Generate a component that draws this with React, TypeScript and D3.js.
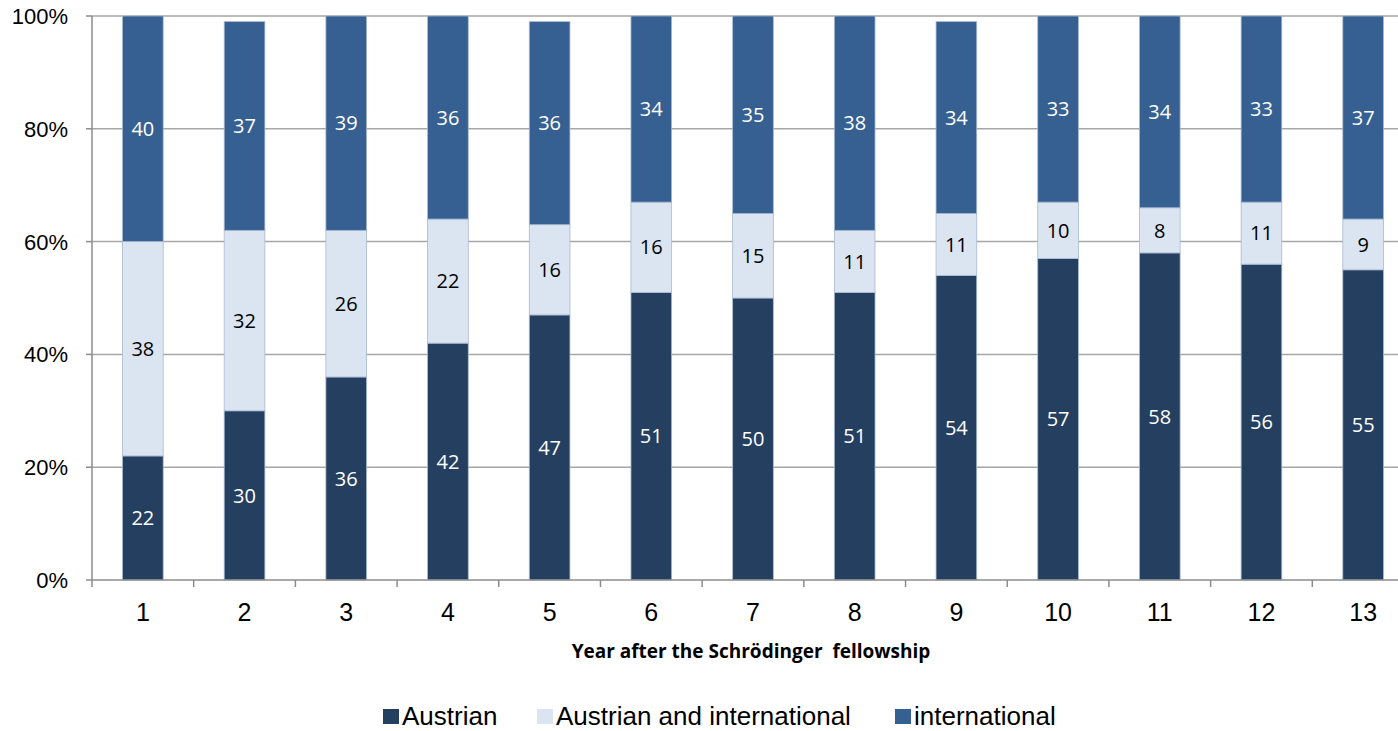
import React, { useEffect, useRef } from 'react';
import * as d3 from 'd3';

const years = ['1', '2', '3', '4', '5', '6', '7', '8', '9', '10', '11', '12', '13'];
const austrian = [22, 30, 36, 42, 47, 51, 50, 51, 54, 57, 58, 56, 55];
const both = [38, 32, 26, 22, 16, 16, 15, 11, 11, 10, 8, 11, 9];
const international = [40, 37, 39, 36, 36, 34, 35, 38, 34, 33, 34, 33, 37];
const seriesNames = ['Austrian', 'Austrian and international', 'international'];
const colors = ['#253f60', '#dbe5f1', '#366092'];
const labelColors = ['#ffffff', '#000000', '#ffffff'];
const yTicks = [0, 20, 40, 60, 80, 100];

const W = 1398, H = 731;

export default function App() {
  const ref = useRef<SVGSVGElement>(null);

  useEffect(() => {
    const svg = d3.select(ref.current);
    svg.selectAll('*').remove();

    const left = 92, right = 1414, top = 16, bottom = 580;
    const x = d3.scaleBand().domain(years).range([left, right]).paddingInner(0.6).paddingOuter(0.3);
    const xBand = d3.scaleBand().domain(years).range([left, right]);
    const y = d3.scaleLinear().domain([0, 100]).range([bottom, top]);
    const arial = '"Liberation Sans", Arial, sans-serif';

    // gridlines
    svg.append('g').selectAll('line').data(yTicks.slice(1)).join('line')
      .attr('x1', left).attr('x2', W)
      .attr('y1', d => y(d)).attr('y2', d => y(d))
      .attr('stroke', '#a6a6a6').attr('stroke-width', 1.5);

    // y labels and ticks
    const yg = svg.append('g');
    yg.selectAll('line').data(yTicks).join('line')
      .attr('x1', left - 6).attr('x2', left)
      .attr('y1', d => y(d)).attr('y2', d => y(d))
      .attr('stroke', '#8c8c8c').attr('stroke-width', 1.5);
    yg.selectAll('text').data(yTicks).join('text')
      .attr('x', 68).attr('y', d => y(d)).attr('dy', '0.36em')
      .attr('text-anchor', 'end')
      .style('font-family', arial).style('font-size', '22px')
      .text(d => d + '%');

    const rows = years.map((yr, i) => ({ yr, vals: [austrian[i], both[i], international[i]] }));

    const segs: { yr: string; s: number; y0: number; y1: number; v: number }[] = [];
    rows.forEach(r => {
      let acc = 0;
      r.vals.forEach((v, s) => {
        const y0 = Math.min(acc, 100), y1 = Math.min(acc + v, 100);
        segs.push({ yr: r.yr, s, y0, y1, v });
        acc += v;
      });
    });

    svg.append('g').selectAll('rect').data(segs).join('rect')
      .attr('x', d => x(d.yr)!)
      .attr('width', x.bandwidth())
      .attr('y', d => y(d.y1))
      .attr('height', d => y(d.y0) - y(d.y1))
      .attr('fill', d => colors[d.s])
      .attr('stroke', '#a9b9d0').attr('stroke-width', 0.8);

    svg.append('g').selectAll('text').data(segs).join('text')
      .attr('x', d => x(d.yr)! + x.bandwidth() / 2)
      .attr('y', d => y((d.y0 + d.y1) / 2))
      .attr('dy', '0.36em')
      .attr('text-anchor', 'middle')
      .attr('fill', d => labelColors[d.s])
      .style('font-family', '"Open Sans", sans-serif').style('font-size', '20px')
      .text(d => d.v);

    // axes lines
    svg.append('line').attr('x1', left).attr('x2', left).attr('y1', top).attr('y2', bottom)
      .attr('stroke', '#8c8c8c').attr('stroke-width', 1.5);
    svg.append('line').attr('x1', left).attr('x2', W).attr('y1', bottom).attr('y2', bottom)
      .attr('stroke', '#8c8c8c').attr('stroke-width', 1.5);

    const ticksX = years.map(yr => xBand(yr)!).concat([right]);
    svg.append('g').selectAll('line').data(ticksX).join('line')
      .attr('x1', d => d).attr('x2', d => d)
      .attr('y1', bottom).attr('y2', bottom + 7)
      .attr('stroke', '#8c8c8c').attr('stroke-width', 1.5);

    svg.append('g').selectAll('text').data(years).join('text')
      .attr('x', d => xBand(d)! + xBand.bandwidth() / 2)
      .attr('y', 612).attr('dy', '0.36em')
      .attr('text-anchor', 'middle')
      .style('font-family', arial).style('font-size', '25px')
      .text(d => d);

    svg.append('text')
      .attr('x', 751).attr('y', 651).attr('dy', '0.36em')
      .attr('text-anchor', 'middle')
      .style('font-family', '"Open Sans", sans-serif').style('font-size', '19px').style('font-weight', 'bold')
      .style('white-space', 'pre')
      .text('Year after the Schrödinger  fellowship');

    // legend
    const legX = [383, 537, 895];
    const lg = svg.append('g').selectAll('g').data(seriesNames).join('g')
      .attr('transform', (d, i) => `translate(${legX[i]},716)`);
    lg.append('rect').attr('x', 0).attr('y', -7).attr('width', 16).attr('height', 15)
      .attr('fill', (d, i) => colors[i]);
    lg.append('text').attr('x', 19).attr('y', 0).attr('dy', '0.36em')
      .style('font-family', arial).style('font-size', '26px')
      .text(d => d);
  }, []);

  return <svg ref={ref} width={W} height={H} style={{ position: 'absolute', left: 0, top: 0 }} />;
}
